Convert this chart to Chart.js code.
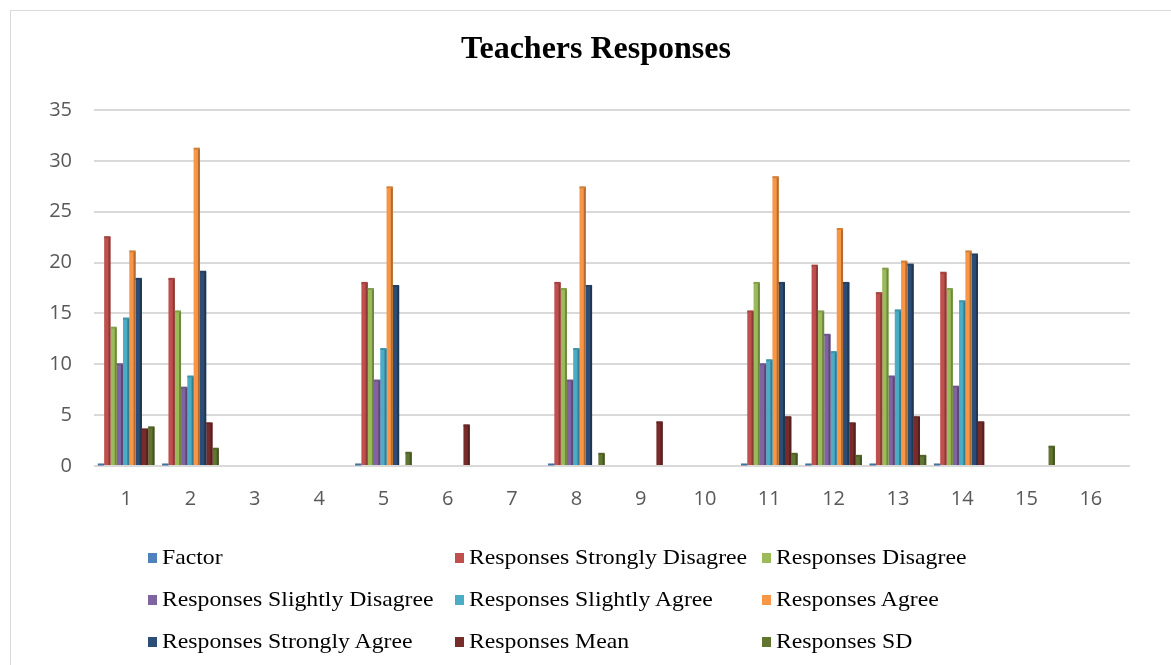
<!DOCTYPE html>
<html>
<head>
<meta charset="utf-8">
<script src="https://cdn.jsdelivr.net/npm/chart.js@4.4.1/dist/chart.umd.min.js"></script>
<style>
  html, body { margin: 0; padding: 0; background: #fff; }
  #frame {
    position: absolute; left: 10px; top: 10px;
    width: 1170px; height: 660px;
    border: 1px solid #d9d9d9; box-sizing: border-box;
  }
  #wrap { position: absolute; left: 0; top: 0; width: 1171px; height: 665px; }
  #title {
    position: absolute; left: 10px; top: 28px; width: 1172px;
    text-align: center; line-height: 38px;
    font-family: "Liberation Serif", "Times New Roman", serif;
    font-size: 32px; font-weight: bold; color: #000;
  }
  #legend {
    position: absolute; left: 0; top: 0; width: 1171px; height: 665px;
    pointer-events: none;
    font-family: "Liberation Serif", "Times New Roman", serif;
    font-size: 21px; color: #000;
  }
  .item { position: absolute; white-space: nowrap; line-height: 24px; }
  .txt { display: inline-block; transform-origin: 0 50%; transform: scaleX(1.13); }
  .box { display: inline-block; width: 9px; height: 10px; margin-right: 5px; vertical-align: 1px; }
</style>
</head>
<body>
<div id="frame"></div>
<div id="wrap"><canvas id="chart" width="1171" height="665"></canvas></div>
<div id="title">Teachers Responses</div>
<div id="legend"></div>
<script>
const categories = ["1", "2", "3", "4", "5", "6", "7", "8", "9", "10", "11", "12", "13", "14", "15", "16"];

const seriesNames = [
    "Factor",
    "Responses Strongly Disagree",
    "Responses Disagree",
    "Responses Slightly Disagree",
    "Responses Slightly Agree",
    "Responses Agree",
    "Responses Strongly Agree",
    "Responses Mean",
    "Responses SD"
];

const seriesColors = ["#4F81BD", "#C0504D", "#9BBB59", "#8064A2", "#4BACC6", "#F79646", "#2C4D75", "#772C2A", "#5F7530"];

const factor           = [0.15, 0.15, null, null, 0.15, null, null, 0.15, null, null, 0.15, 0.15, 0.15, 0.15, null, null];
const stronglyDisagree = [22.5, 18.4, null, null, 18.0, null, null, 18.0, null, null, 15.2, 19.7, 17.0, 19.0, null, null];
const disagree         = [13.6, 15.2, null, null, 17.4, null, null, 17.4, null, null, 18.0, 15.2, 19.4, 17.4, null, null];
const slightlyDisagree = [10.0, 7.7, null, null, 8.4, null, null, 8.4, null, null, 10.0, 12.9, 8.8, 7.8, null, null];
const slightlyAgree    = [14.5, 8.8, null, null, 11.5, null, null, 11.5, null, null, 10.4, 11.2, 15.3, 16.2, null, null];
const agree            = [21.1, 31.2, null, null, 27.4, null, null, 27.4, null, null, 28.4, 23.3, 20.1, 21.1, null, null];
const stronglyAgree    = [18.4, 19.1, null, null, 17.7, null, null, 17.7, null, null, 18.0, 18.0, 19.8, 20.8, null, null];
const mean             = [3.6, 4.2, null, null, null, 4.0, null, null, 4.3, null, 4.8, 4.2, 4.8, 4.3, null, null];
const sd               = [3.8, 1.7, null, null, 1.3, null, null, 1.2, null, null, 1.2, 1.0, 1.0, null, 1.9, null];

const seriesValues = [factor, stronglyDisagree, disagree, slightlyDisagree, slightlyAgree, agree, stronglyAgree, mean, sd];

const yTicks = [0, 5, 10, 15, 20, 25, 30, 35];

// legend grid: 3 columns, rows top to bottom
const LEGEND_COLS = [148, 455, 762];
const LEGEND_ROWS = [545, 587, 629];

function shade(hex, f) {
    const c = hex.replace("#", "");
    const r = Math.round(parseInt(c.substring(0, 2), 16) * f);
    const g = Math.round(parseInt(c.substring(2, 4), 16) * f);
    const b = Math.round(parseInt(c.substring(4, 6), 16) * f);
    return `rgb(${r}, ${g}, ${b})`;
}

// fake the old Excel 3D look: darker right side and a small top cap
const bevel = {
    id: "bevel",
    afterDatasetsDraw(chart) {
        const ctx = chart.ctx;
        chart.data.datasets.forEach((ds, i) => {
            const meta = chart.getDatasetMeta(i);
            meta.data.forEach((bar, j) => {
                if (ds.data[j] == null) {
                    return;
                }
                const { x, y, base, width } = bar.getProps(["x", "y", "base", "width"], true);
                const right = x + width / 2;
                ctx.save();
                ctx.fillStyle = shade(ds.backgroundColor, 0.72);
                ctx.fillRect(right - 2, y, 2, base - y);
                ctx.fillStyle = shade(ds.backgroundColor, 0.85);
                ctx.fillRect(x - width / 2, y - 1, width, 2);
                ctx.restore();
            });
        });
    }
};

// gridlines in the original run a bit past the last category (3D depth)
const gridTail = {
    id: "gridTail",
    beforeDatasetsDraw(chart) {
        const y = chart.scales.y;
        const ctx = chart.ctx;
        ctx.save();
        ctx.strokeStyle = "#d9d9d9";
        ctx.lineWidth = 2;
        y.ticks.forEach((t) => {
            const py = Math.round(y.getPixelForValue(t.value));
            ctx.beginPath();
            ctx.moveTo(chart.chartArea.right, py);
            ctx.lineTo(chart.chartArea.right + 7, py);
            ctx.stroke();
        });
        ctx.restore();
    }
};

const ctx = document.getElementById("chart");

const chart = new Chart(ctx, {
    type: "bar",
    data: {
        labels: categories,
        datasets: seriesNames.map((name, i) => ({
            label: name,
            data: seriesValues[i],
            backgroundColor: seriesColors[i],
            borderWidth: 0,
            categoryPercentage: 0.88,
            barPercentage: 1.0
        }))
    },
    options: {
        responsive: false,
        animation: false,
        layout: { padding: { left: 0, right: 48, top: 110, bottom: 149 } },
        plugins: {
            legend: { display: false },
            tooltip: { enabled: false },
            title: { display: false }
        },
        scales: {
            x: {
                grid: { display: false, drawTicks: false },
                border: { display: false },
                ticks: {
                    color: "#595959",
                    padding: 21,
                    font: { family: "'Open Sans', sans-serif", size: 20 }
                },
                afterFit: (scale) => { scale.height = 50; }
            },
            y: {
                min: 0,
                max: 35,
                afterBuildTicks: (scale) => { scale.ticks = yTicks.map((v) => ({ value: v })); },
                grid: { color: "#d9d9d9", lineWidth: 2, drawTicks: false },
                border: { display: false },
                ticks: {
                    color: "#595959",
                    padding: 22,
                    font: { family: "'Open Sans', sans-serif", size: 20 }
                },
                afterFit: (scale) => { scale.width = 94; }
            }
        }
    },
    plugins: [gridTail, bevel]
});

// html legend laid out in a 3 column grid like the original
const legendEl = document.getElementById("legend");
chart.data.datasets.forEach((ds, i) => {
    const item = document.createElement("div");
    item.className = "item";
    item.style.left = LEGEND_COLS[i % 3] + "px";
    item.style.top = LEGEND_ROWS[Math.floor(i / 3)] + "px";
    const box = document.createElement("span");
    box.className = "box";
    box.style.background = ds.backgroundColor;
    const txt = document.createElement("span");
    txt.className = "txt";
    txt.textContent = ds.label;
    item.appendChild(box);
    item.appendChild(txt);
    legendEl.appendChild(item);
});
</script>
</body>
</html>
